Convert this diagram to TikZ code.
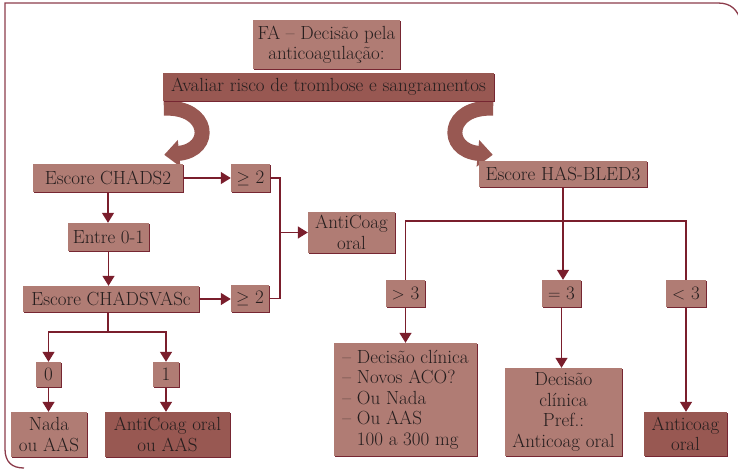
\documentclass[tikz,border=0pt]{standalone}
\usepackage{amssymb}
\usepackage{amsmath}
\usepackage{tikz}
\usetikzlibrary{arrows.meta,shadows,backgrounds}

\definecolor{caixaclara}{RGB}{176,124,116}
\definecolor{caixaescura}{RGB}{152,88,82}
\definecolor{sombra}{RGB}{118,38,50}
\definecolor{vinho}{RGB}{122,30,44}
\definecolor{moldura}{RGB}{140,60,75}
\definecolor{texto}{RGB}{38,30,30}

\tikzset{
  caixa/.style={fill=caixaclara, text=texto, inner sep=0pt, align=center,
    font=\fontsize{19}{20.5}\selectfont,
    drop shadow={shadow xshift=1.3pt, shadow yshift=-1.3pt, fill=sombra, opacity=1}},
  escura/.style={caixa, fill=caixaescura},
  seta/.style={draw=vinho, line width=1.4pt, -{Triangle[width=12pt,length=10pt]}},
  linha/.style={draw=vinho, line width=1.4pt},
  curva/.style={draw=caixaescura, line width=15pt, -{Triangle[width=26pt,length=15pt]}},
  borda/.style={draw=moldura, line width=1.3pt}
}

\begin{document}
\begin{tikzpicture}[x=1pt,y=-1pt]
    \useasboundingbox (0,0) rectangle (738,470);
    \begin{scope}
        \draw[borda] (24,468) .. controls (12,468) and (5,462) .. (5,449) -- (5,3) -- (718,3) .. controls (731,3) and (738,10) .. (741,22);

        \node[caixa, minimum width=147, minimum height=49] (fa) at (326.5,44.5) {FA – Decisão pela\\anticoagulação:};
        \node[escura, minimum width=331, minimum height=28] (aval) at (328.5,87) {Avaliar risco de trombose e sangramentos};

        \node[caixa, minimum width=150, minimum height=28] (chads) at (108,178) {Escore CHADS2};
        \node[caixa, minimum width=39, minimum height=28] (ge1) at (250.5,178) {$\geq$ 2};
        \node[caixa, minimum width=81, minimum height=28] (entre) at (108.5,237) {Entre 0-1};
        \node[caixa, minimum width=176, minimum height=26] (vasc) at (111,299) {Escore CHADSVASc};
        \node[caixa, minimum width=38, minimum height=27] (ge2) at (250,298.5) {$\geq$ 2};
        \node[caixa, minimum width=87, minimum height=41] (ac1) at (351.5,232.5) {AntiCoag\\oral};
        \node[caixa, minimum width=25, minimum height=25] (zero) at (48.5,374.5) {0};
        \node[caixa, minimum width=26, minimum height=25] (um) at (166,374.5) {1};
        \node[caixa, minimum width=76, minimum height=45] (nada) at (49,434.5) {Nada\\ou AAS};
        \node[escura, minimum width=125, minimum height=45] (acaas) at (167.5,434.5) {AntiCoag oral\\ou AAS};

        \node[caixa, minimum width=168, minimum height=26] (hasb) at (563,174) {Escore HAS-BLED3};
        \node[caixa, minimum width=39, minimum height=27] (maior) at (405.5,293.5) {$>$ 3};
        \node[caixa, minimum width=39, minimum height=27] (igual) at (561.5,293.5) {$=$ 3};
        \node[caixa, minimum width=40, minimum height=27] (menor) at (686,293.5) {$<$ 3};
        \node[caixa, minimum width=143, minimum height=113, align=left] (lista) at (405.5,399.5) {– Decisão clínica\\– Novos ACO?\\– Ou Nada\\– Ou AAS\\\phantom{– }100 a 300 mg};
        \node[caixa, minimum width=117, minimum height=88] (decis) at (563.5,412) {Decisão\\clínica\\Pref.:\\Anticoag oral};
        \node[escura, minimum width=83, minimum height=44] (ac2) at (685.5,434) {Anticoag\\oral};

        \begin{pgfonlayer}{background}
            \draw[curva] ([xshift=1pt,yshift=-7pt]aval.south west) .. controls (210,106) and (214,150) .. ([xshift=-19pt,yshift=9pt]chads.north east); % para CHADS2
            \draw[curva] ([xshift=-1pt,yshift=-7pt]aval.south east) .. controls (447,106) and (443,150) .. ([xshift=14pt,yshift=6pt]hasb.north west); % para HAS-BLED
        \end{pgfonlayer}

        \draw[seta] (chads) -- (ge1);
        \draw[seta] (chads.south) -- (chads.south |- entre.north);
        \draw[seta] (entre.south) -- (entre.south |- vasc.north);
        \draw[seta] (vasc.east) -- (vasc.east -| ge2.west);
        \coordinate (junta) at (280,232.5);
        \draw[linha] (ge1.east) -| (junta) |- (ge2.east); % os dois >= 2
        \draw[seta] (junta) -- (ac1.west);

        \coordinate (ramo) at (108,332);
        \draw[linha] (ramo |- vasc.south) -- (ramo);
        \draw[seta] (ramo) -| (zero.north);
        \draw[seta] (ramo) -| (um.north);
        \draw[seta] (zero.south) -- (zero.south |- nada.north);
        \draw[seta] (um.south) -- (um.south |- acaas.north);

        \coordinate (ramo2) at (563,221);
        \draw[seta] (hasb.south) -- (hasb.south |- igual.north);
        \draw[linha] (maior.north) |- (ramo2) -| (menor.north);
        \draw[seta] (maior.south) -- (maior.south |- lista.north);
        \draw[seta] (igual.south) -- (igual.south |- decis.north);
        \draw[seta] (menor.south) -- (menor.south |- ac2.north);
    \end{scope}
\end{tikzpicture}
\end{document}
